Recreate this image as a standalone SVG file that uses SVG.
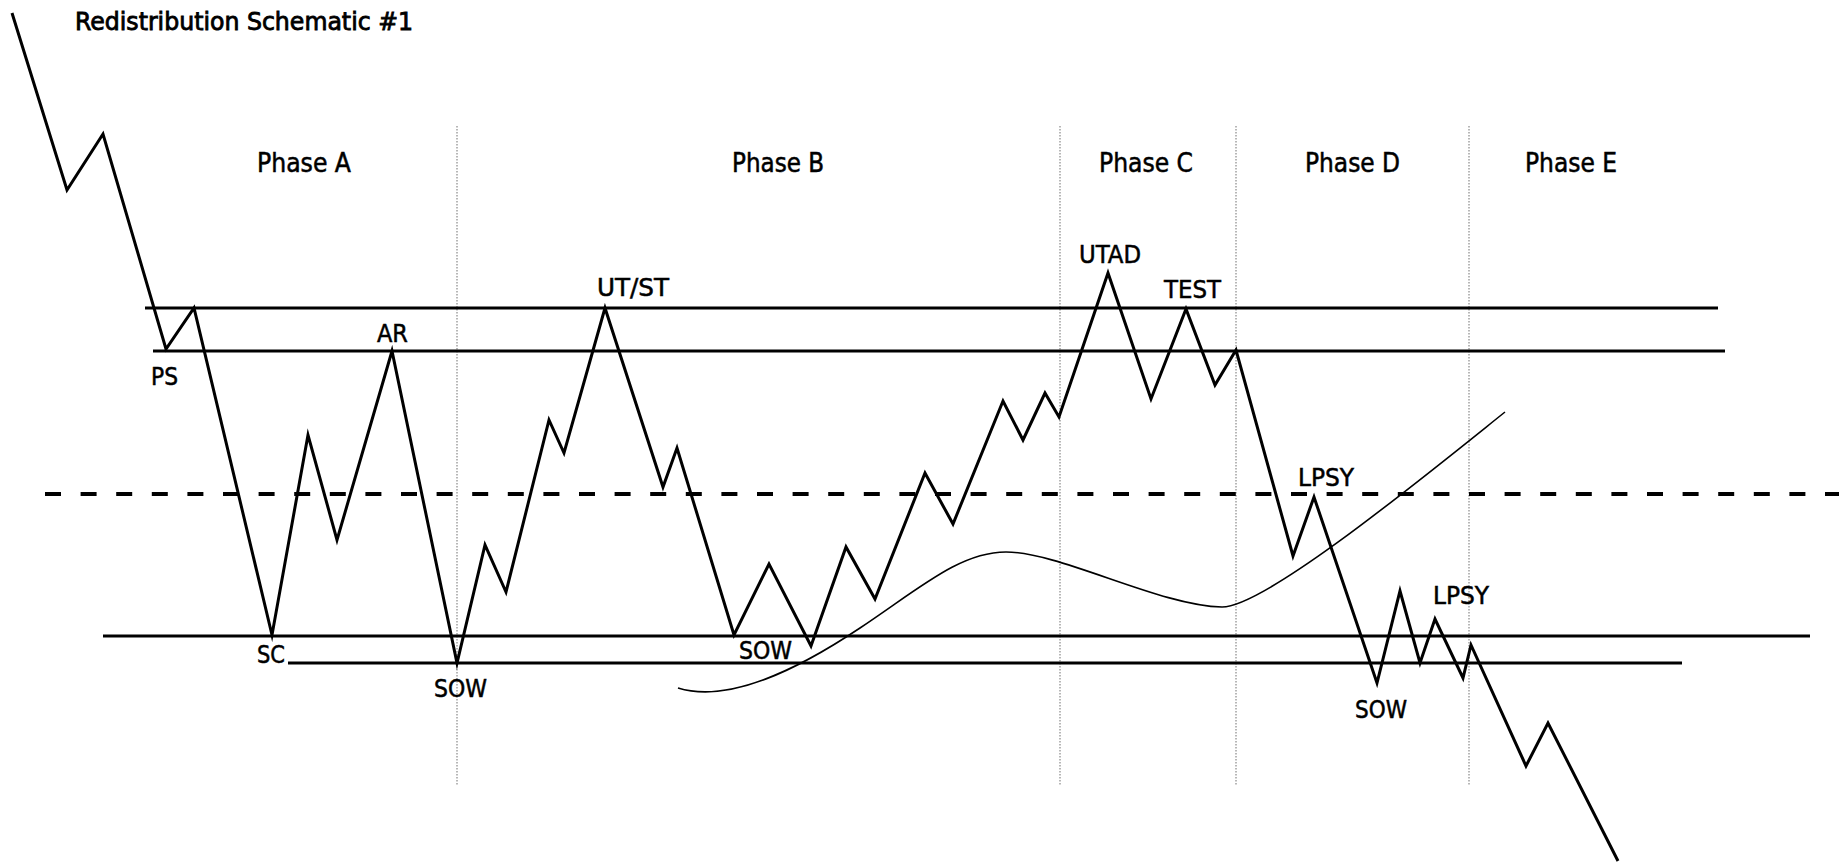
<svg xmlns="http://www.w3.org/2000/svg" width="1839" height="867" viewBox="0 0 1839 867">
<style>
.bg{fill:#ffffff}
.lvl{stroke:#000;stroke-width:3;fill:none}
.dash{stroke:#000;stroke-width:4;stroke-dasharray:16 19.6;fill:none}
.div{stroke:#888;stroke-width:1.2;stroke-dasharray:1.5 1.5;fill:none}
.price{stroke:#000;stroke-width:3;fill:none;stroke-linejoin:miter;stroke-miterlimit:10}
.curve{stroke:#000;stroke-width:1.6;fill:none}
text{font-family:"DejaVu Sans Condensed","DejaVu Sans",sans-serif;fill:#000;stroke:#000;stroke-width:0.5}
.lbl{font-size:25px}
.ph{font-size:26px}
.title{font-size:25px;stroke-width:0.8}
</style>
<rect class="bg" x="0" y="0" width="1839" height="867"/>
<g id="title"><text class="title" x="75" y="30" textLength="338" lengthAdjust="spacingAndGlyphs">Redistribution Schematic #1</text></g>
<g id="phase-dividers">
<line class="div" x1="457" y1="126" x2="457" y2="785"/>
<line class="div" x1="1060" y1="126" x2="1060" y2="785"/>
<line class="div" x1="1236" y1="126" x2="1236" y2="785"/>
<line class="div" x1="1469" y1="126" x2="1469" y2="785"/>
</g>
<g id="phases">
<text class="ph" x="257" y="172" textLength="94" lengthAdjust="spacingAndGlyphs">Phase A</text>
<text class="ph" x="732" y="172" textLength="92" lengthAdjust="spacingAndGlyphs">Phase B</text>
<text class="ph" x="1099" y="172" textLength="94" lengthAdjust="spacingAndGlyphs">Phase C</text>
<text class="ph" x="1305" y="172" textLength="95" lengthAdjust="spacingAndGlyphs">Phase D</text>
<text class="ph" x="1525" y="172" textLength="92" lengthAdjust="spacingAndGlyphs">Phase E</text>
</g>
<g id="levels">
<line class="lvl" x1="145" y1="308" x2="1718" y2="308"/>
<line class="lvl" x1="153" y1="351" x2="1725" y2="351"/>
<line class="dash" x1="45" y1="494" x2="1839" y2="494"/>
<line class="lvl" x1="103" y1="636" x2="1810" y2="636"/>
<line class="lvl" x1="288" y1="663" x2="1682" y2="663"/>
</g>
<g id="connectors">
<path id="volume-curve" class="curve" d="M678,688 C730,704 800,668 860,628 C920,588 960,552 1006,552 C1060,552 1160,606 1222,607 C1265,607 1420,480 1505,412"/>
<polyline id="price-path" class="price" points="12,13 67,190 103,134 166,349 194,308 272,635 308,435 337,540 392,351 457,663 485,545 506,592 549,420 564,453 605,308 663,487 677,448 734,635 769,564 811,646 846,547 875,599 925,473 953,524 1003,401 1023,440 1045,393 1059,417 1108,273 1151,399 1186,309 1215,385 1236,350 1293,556 1314,497 1377,683 1400,591 1420,663 1435,619 1463,678 1471,645 1526,766 1548,723 1618,861"/>
</g>
<g id="labels">
<g id="ps"><text class="lbl" x="151" y="385" textLength="27" lengthAdjust="spacingAndGlyphs">PS</text></g>
<g id="ar"><text class="lbl" x="377" y="342" textLength="31" lengthAdjust="spacingAndGlyphs">AR</text></g>
<g id="sc"><text class="lbl" x="257" y="663" textLength="28" lengthAdjust="spacingAndGlyphs">SC</text></g>
<g id="sow1"><text class="lbl" x="434" y="697" textLength="53" lengthAdjust="spacingAndGlyphs">SOW</text></g>
<g id="utst"><text class="lbl" x="597" y="296" textLength="72" lengthAdjust="spacingAndGlyphs">UT/ST</text></g>
<g id="sow2"><text class="lbl" x="739" y="659" textLength="53" lengthAdjust="spacingAndGlyphs">SOW</text></g>
<g id="utad"><text class="lbl" x="1079" y="263" textLength="62" lengthAdjust="spacingAndGlyphs">UTAD</text></g>
<g id="test"><text class="lbl" x="1164" y="298" textLength="57" lengthAdjust="spacingAndGlyphs">TEST</text></g>
<g id="lpsy1"><text class="lbl" x="1298" y="486" textLength="56" lengthAdjust="spacingAndGlyphs">LPSY</text></g>
<g id="lpsy2"><text class="lbl" x="1433" y="604" textLength="56" lengthAdjust="spacingAndGlyphs">LPSY</text></g>
<g id="sow3"><text class="lbl" x="1355" y="718" textLength="52" lengthAdjust="spacingAndGlyphs">SOW</text></g>
</g>
</svg>
